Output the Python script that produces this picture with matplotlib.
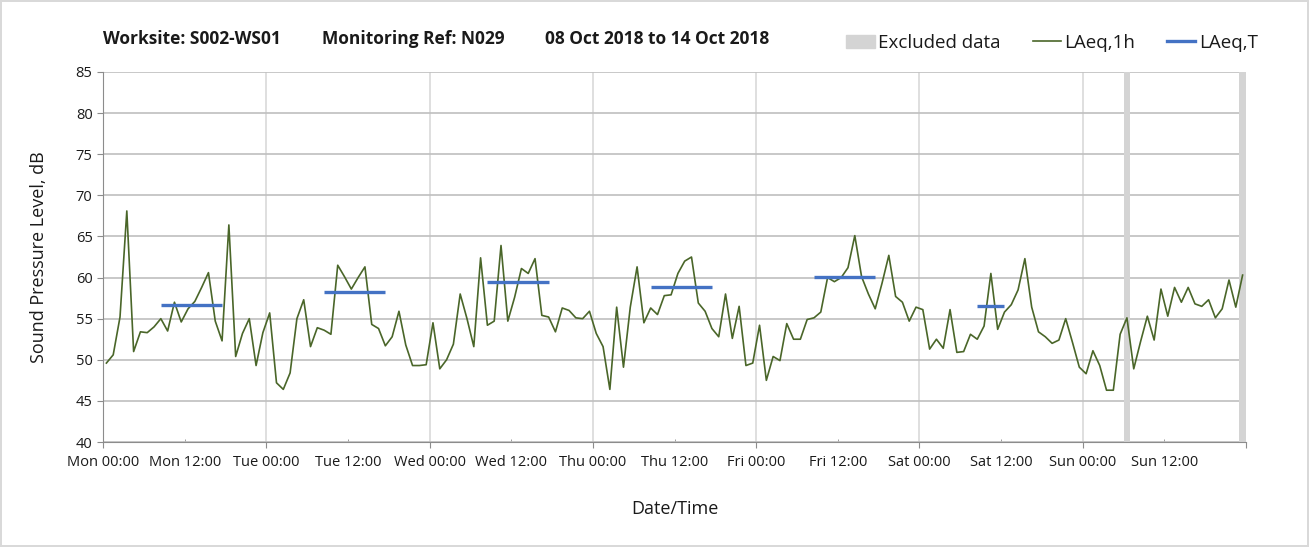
import numpy as np
import matplotlib
matplotlib.use("Agg")
import matplotlib.pyplot as plt
from matplotlib.patches import Patch
from matplotlib.lines import Line2D

plt.rcParams['font.family'] = ['Open Sans', 'DejaVu Sans']

# hourly LAeq,1h values, Mon 00:00 -> Sun 24:00 (one per hour)
laeq_1h = [
    49.6, 50.6, 55.2, 68.1, 51.0, 53.4, 53.3, 54.0, 55.0, 53.5, 57.0, 54.6, 56.2, 57.1,
    58.8, 60.6, 54.7, 52.3, 66.4, 50.4, 53.2, 55.0, 49.3, 53.3, 55.7, 47.2, 46.4, 48.4,
    55.0, 57.3, 51.6, 53.9, 53.6, 53.1, 61.5, 60.1, 58.6, 60.0, 61.3, 54.3, 53.8, 51.7,
    52.8, 55.9, 51.8, 49.3, 49.3, 49.4, 54.5, 48.9, 50.0, 51.9, 58.0, 55.0, 51.6, 62.4,
    54.2, 54.7, 63.9, 54.7, 57.6, 61.1, 60.5, 62.3, 55.4, 55.2, 53.4, 56.3, 56.0, 55.1,
    55.0, 55.9, 53.2, 51.6, 46.4, 56.4, 49.1, 56.4, 61.3, 54.5, 56.3, 55.5, 57.8, 57.9,
    60.5, 62.0, 62.5, 56.9, 55.9, 53.8, 52.8, 58.0, 52.6, 56.5, 49.3, 49.6, 54.2, 47.5,
    50.4, 49.9, 54.4, 52.5, 52.5, 54.9, 55.1, 55.8, 60.0, 59.5, 60.0, 61.2, 65.1, 60.1,
    58.0, 56.2, 59.3, 62.7, 57.7, 57.0, 54.7, 56.4, 56.1, 51.3, 52.5, 51.4, 56.1, 50.9,
    51.0, 53.1, 52.5, 54.1, 60.5, 53.7, 55.8, 56.7, 58.5, 62.3, 56.4, 53.4, 52.8, 52.0,
    52.4, 55.0, 52.1, 49.1, 48.3, 51.1, 49.3, 46.3, 46.3, 53.1, 55.1, 48.9, 52.2, 55.3,
    52.4, 58.6, 55.3, 58.8, 57.0, 58.8, 56.8, 56.5, 57.3, 55.1, 56.2, 59.7, 56.4, 60.3,
]
hours = np.arange(len(laeq_1h)) + 0.5

# LAeq,T periods (day index, start hour, end hour, level)
period_day = [0, 1, 2, 3, 4, 5]
period_start = [8.5, 8.5, 8.5, 8.5, 8.5, 8.5]
period_end = [17.5, 17.5, 17.5, 17.5, 17.5, 12.5]
laeq_t = [56.7, 58.2, 59.4, 58.8, 60.1, 56.5]

# excluded hours (start, end)
excl_start = [150, 167]
excl_end = [151, 168]

day_names = ['Mon', 'Tue', 'Wed', 'Thu', 'Fri', 'Sat', 'Sun']

green = '#4a6629'
blue = '#4472c4'
grey_band = '#d4d4d4'
txt = '#1a1a1a'

fig = plt.figure(figsize=(13.09, 5.47), dpi=100)
fig.patch.set_edgecolor('#d9d9d9')
fig.patch.set_linewidth(1.5)
ax = fig.add_axes([103 / 1309, 105 / 547, 1143 / 1309, 370 / 547])

for s, e in zip(excl_start, excl_end):
    ax.axvspan(s, e, color=grey_band, lw=0, zorder=1)

for d in range(1, 7):
    ax.axvline(d * 24, color='#d9d9d9', lw=1.2, zorder=0)

ax.plot(hours, laeq_1h, color=green, lw=1.2, zorder=3)
for d, s, e, v in zip(period_day, period_start, period_end, laeq_t):
    ax.plot([d * 24 + s, d * 24 + e], [v, v], color=blue, lw=2.4,
            solid_capstyle='butt', zorder=4)

ax.set_xlim(0, 168)
ax.set_ylim(40, 85)
ax.set_yticks(np.arange(40, 86, 5))
ax.set_xticks(np.arange(0, 169, 24))
ax.set_xticklabels([f'{d} 00:00' for d in day_names] + [''])
ax.set_xticks(np.arange(12, 168, 24), minor=True)
ax.set_xticklabels([f'{d} 12:00' for d in day_names], minor=True)
ax.yaxis.grid(True, color='#bfbfbf', lw=1.2)
ax.set_axisbelow(True)
ax.spines['top'].set_visible(False)
ax.spines['right'].set_visible(False)
for sp in ['left', 'bottom']:
    ax.spines[sp].set_color('#8c8c8c')
ax.tick_params(axis='y', colors='#8c8c8c', labelcolor=txt, labelsize=10.5, length=4)
ax.tick_params(axis='x', which='major', colors='#8c8c8c', labelcolor=txt, labelsize=10.5,
               length=4, pad=5)
ax.tick_params(axis='x', which='minor', colors='#8c8c8c', labelcolor=txt, labelsize=10.5,
               length=2.5, direction='in', pad=9)

ax.set_ylabel('Sound Pressure Level, dB', fontsize=13, color=txt, labelpad=20)
ax.set_xlabel('Date/Time', fontsize=13, color=txt, labelpad=22)

ty = 1 - 39 / 547
fig.text(103 / 1309, ty, 'Worksite: S002-WS01', fontsize=12.5, weight='bold', va='center', color=txt)
fig.text(322 / 1309, ty, 'Monitoring Ref: N029', fontsize=12.5, weight='bold', va='center', color=txt)
fig.text(545 / 1309, ty, '08 Oct 2018 to 14 Oct 2018', fontsize=12.5, weight='bold', va='center', color=txt)

handles = [Patch(color=grey_band), Line2D([], [], color=green, lw=1.2), Line2D([], [], color=blue, lw=2.4)]
fig.legend(handles, ['Excluded data', 'LAeq,1h', 'LAeq,T'], loc='center right',
           bbox_to_anchor=(1275 / 1309, 1 - 43 / 547), ncol=3, frameon=False,
           fontsize=13.5, handlelength=1.5, handletextpad=0.2, columnspacing=1.7,
           labelcolor=txt)

fig.savefig('out.png', dpi=100)
